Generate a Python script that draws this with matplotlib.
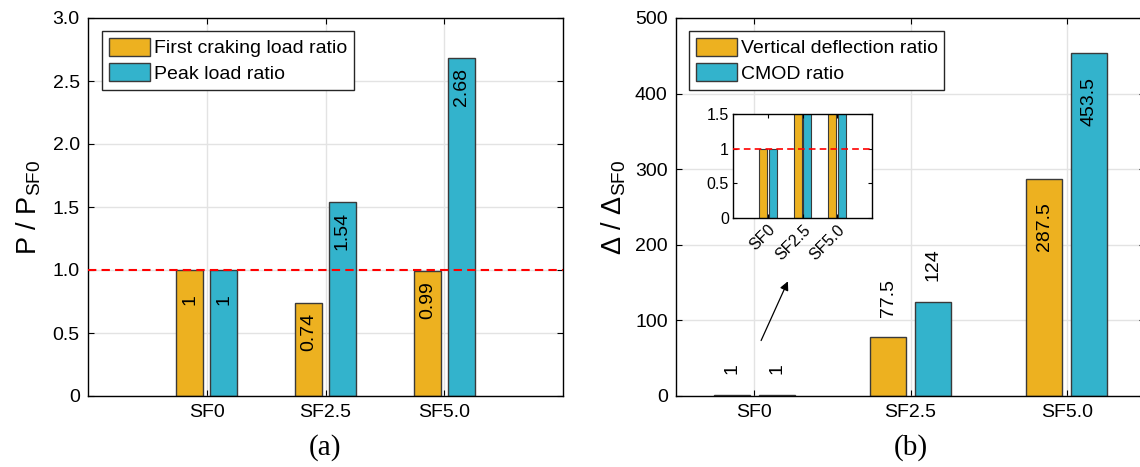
import numpy as np
import matplotlib.pyplot as plt
import matplotlib

matplotlib.rcParams.update({'font.size': 14,
                            'font.family': ['Liberation Sans', 'DejaVu Sans'],
                            'mathtext.default': 'regular'})

categories = ['SF0', 'SF2.5', 'SF5.0']
first_crack_ratio = [1, 0.74, 0.99]
peak_load_ratio = [1, 1.54, 2.68]
deflection_ratio = [1, 77.5, 287.5]
cmod_ratio = [1, 124, 453.5]

yticks_a = [0, 0.5, 1.0, 1.5, 2.0, 2.5, 3.0]
yticklabels_a = ['0', '0.5', '1.0', '1.5', '2.0', '2.5', '3.0']
yticks_b = [0, 100, 200, 300, 400, 500]
yticks_in = [0, 0.5, 1, 1.5]
yticklabels_in = ['0', '0.5', '1', '1.5']

orange = '#EDB120'
cyan = '#33B3CC'
edge = '#3a3a3a'

x = np.arange(1, len(categories) + 1)
w = 0.23
off = 0.143

W, H = 1140, 467
fig = plt.figure(figsize=(W / 100, H / 100), dpi=100)
ax1 = fig.add_axes([88 / W, 1 - 396 / H, 475 / W, 378 / H])
ax2 = fig.add_axes([676 / W, 1 - 396 / H, 469 / W, 378 / H])
axin = fig.add_axes([733 / W, 1 - 218 / H, 139 / W, 104 / H])


def style(ax, grid=True):
    ax.tick_params(direction='in', top=True, right=True, length=4, width=0.8, pad=6)
    for s in ax.spines.values():
        s.set_linewidth(1)
        s.set_color('black')
    if grid:
        ax.grid(True, color='#e3e3e3', lw=1)
        ax.set_axisbelow(True)


def legend(ax, x0):
    leg = ax.legend(loc='upper left', bbox_to_anchor=(x0 / W, 1 - 31 / H),
                    bbox_transform=fig.transFigure, borderaxespad=0,
                    fancybox=False, edgecolor='#262626', framealpha=1,
                    handlelength=2.1, handleheight=1.03, handletextpad=0.2,
                    labelspacing=0.3, borderpad=0.35, fontsize=14)
    leg.get_frame().set_linewidth(1)


# (a) load ratios
style(ax1)
ax1.bar(x - off, first_crack_ratio, w, color=orange, edgecolor=edge, lw=1,
        label='First craking load ratio')
ax1.bar(x + off, peak_load_ratio, w, color=cyan, edgecolor=edge, lw=1,
        label='Peak load ratio')
ax1.axhline(1, color='red', ls=(0, (4, 2.5)), lw=1.5, zorder=3)
for xs, vals in [(x - off, first_crack_ratio), (x + off, peak_load_ratio)]:
    for xi, v in zip(xs, vals):
        ax1.annotate(f'{v:g}', (xi, v), xytext=(0, -21), textcoords='offset points',
                     rotation=90, ha='center', va='center', zorder=4)
ax1.set_xlim(0, 4)
ax1.set_ylim(0, 3)
ax1.set_xticks(x)
ax1.set_xticklabels(categories)
ax1.set_yticks(yticks_a)
ax1.set_yticklabels(yticklabels_a)
ax1.set_ylabel('P / P$_{SF0}$', fontsize=19.5, labelpad=7)
ax1.set_xlabel('(a)', fontsize=21, family='Liberation Serif', labelpad=9)
legend(ax1, 102)

# (b) deflection ratios
style(ax2)
ax2.bar(x - off, deflection_ratio, w, color=orange, edgecolor=edge, lw=1,
        label='Vertical deflection ratio')
ax2.bar(x + off, cmod_ratio, w, color=cyan, edgecolor=edge, lw=1,
        label='CMOD ratio')
for xs, vals in [(x - off, deflection_ratio), (x + off, cmod_ratio)]:
    for xi, v in zip(xs, vals):
        if v > 200:
            ax2.annotate(f'{v:g}', (xi, v), xytext=(0, -17), textcoords='offset points',
                         rotation=90, ha='center', va='top', zorder=4)
        else:
            ax2.annotate(f'{v:g}', (xi, v), xytext=(0, 15), textcoords='offset points',
                         rotation=90, ha='center', va='bottom', zorder=4)
ax2.set_xlim(0.5, 3.5)
ax2.set_ylim(0, 500)
ax2.set_xticks(x)
ax2.set_xticklabels(categories)
ax2.set_yticks(yticks_b)
ax2.set_ylabel('Δ / Δ$_{SF0}$', fontsize=19.5, labelpad=5)
ax2.set_xlabel('(b)', fontsize=21, family='Liberation Serif', labelpad=9)
legend(ax2, 689)
ax2.annotate('', xy=(1.223, 155), xytext=(1.037, 70),
             arrowprops=dict(arrowstyle='-|>', color='black', lw=0.9,
                             mutation_scale=13))

# inset zoom on the SF0 level
style(axin, grid=False)
axin.set_facecolor('white')
axin.bar(x - off, deflection_ratio, w, color=orange, edgecolor=edge, lw=0.8)
axin.bar(x + off, cmod_ratio, w, color=cyan, edgecolor=edge, lw=0.8)
axin.axhline(1, color='red', ls=(0, (4, 2.5)), lw=1.2, zorder=3)
axin.set_xlim(0, 4)
axin.set_ylim(0, 1.5)
axin.set_xticks(x)
axin.set_xticklabels(categories, rotation=45, ha='right', rotation_mode='anchor')
axin.set_yticks(yticks_in)
axin.set_yticklabels(yticklabels_in)
axin.tick_params(labelsize=11.5, length=3, pad=3)

fig.savefig('out.png', dpi=100)
